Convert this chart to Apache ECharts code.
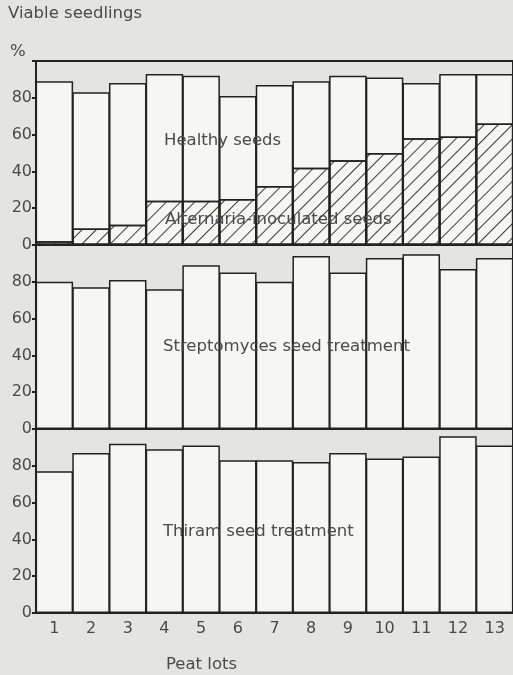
<!DOCTYPE html>
<html>
<head>
<meta charset="utf-8">
<script src="https://cdn.jsdelivr.net/npm/echarts@6/dist/echarts.min.js"></script>
<style>
  html, body { margin: 0; padding: 0; background: #e4e4e2; }
  #chart { width: 513px; height: 675px; }
</style>
</head>
<body>
<div id="chart"></div>
<script>
// peat lots
const lots = ['1', '2', '3', '4', '5', '6', '7', '8', '9', '10', '11', '12', '13']
// viable seedlings (%)
const healthy = [89, 83, 88, 93, 92, 81, 87, 89, 92, 91, 88, 93, 93]
const alternaria = [2, 9, 11, 24, 24, 25, 32, 42, 46, 50, 58, 59, 66]
const streptomyces = [80, 77, 81, 76, 89, 85, 80, 94, 85, 93, 95, 87, 93]
const thiram = [77, 87, 92, 89, 91, 83, 83, 82, 87, 84, 85, 96, 91]
const yTicks = [0, 20, 40, 60, 80]

const ink = '#222'
const font = 'DejaVu Sans'
const textColor = '#4a4a4a'
const barFill = '#f6f6f4'

let mychart = echarts.init(document.getElementById('chart'))

// three stacked panels sharing the same x categories
const panels = [
    { top: 61 },
    { top: 245 },
    { top: 429 },
]

function xAxisFor(i) {
    return {
        type: 'category',
        gridIndex: i,
        data: lots,
        axisLine: { show: true, lineStyle: { color: ink, width: 2 } },
        axisTick: { show: false },
        axisLabel: {
            show: i === 2,
            color: textColor,
            fontFamily: font,
            fontSize: 16,
            margin: 8,
        },
    }
}

function yAxisFor(i) {
    return {
        type: 'value',
        gridIndex: i,
        min: 0,
        max: 100,
        interval: 20,
        splitLine: { show: false },
        axisLine: { show: true, lineStyle: { color: ink, width: 2 } },
        axisTick: { show: true, length: 4, lineStyle: { color: ink, width: 2 } },
        axisLabel: {
            color: textColor,
            fontFamily: font,
            fontSize: 16,
            margin: 4,
            formatter: function (v) {
                return yTicks.indexOf(v) >= 0 ? String(v) : ''
            },
        },
    }
}

function barSeries(data, i, extra) {
    return Object.assign({
        type: 'bar',
        xAxisIndex: i,
        yAxisIndex: i,
        data: data,
        barWidth: 37.5, // slightly wider than the band so neighbours touch
        barGap: '-100%',
        silent: true,
        itemStyle: { color: barFill, borderColor: ink, borderWidth: 1.5 },
    }, extra || {})
}

// panel captions, drawn above the bars
function caption(text, left, top) {
    return {
        type: 'text', left: left, top: top, z: 100,
        style: { text: text, fill: textColor, font: '16.5px "DejaVu Sans"' },
    }
}

mychart.setOption({
    animation: false,
    backgroundColor: '#e4e4e2',
    grid: panels.map(function (p) {
        return {
            left: 36,
            right: 0,
            top: p.top,
            height: 184,
            show: true,
            borderColor: ink,
            borderWidth: 2,
            backgroundColor: 'transparent',
        }
    }),
    xAxis: [0, 1, 2].map(xAxisFor),
    yAxis: [0, 1, 2].map(yAxisFor),
    series: [
        barSeries(healthy, 0),
        // hatched bars overlaid from zero
        barSeries(alternaria, 0, {
            itemStyle: {
                color: barFill,
                borderColor: ink,
                borderWidth: 1.5,
                decal: {
                    symbol: 'rect',
                    symbolSize: 1,
                    color: '#3a3a3a',
                    dashArrayX: [1, 0],
                    dashArrayY: [0.9, 9],
                    rotation: -Math.PI / 4,
                },
            },
        }),
        barSeries(streptomyces, 1),
        barSeries(thiram, 2),
    ],
    graphic: [
        caption('Viable seedlings', 8, 5),
        caption('%', 10, 43),
        caption('Healthy seeds', 164, 132),
        caption('Alternaria-inoculated seeds', 165, 211),
        caption('Streptomyces seed treatment', 163, 338),
        caption('Thiram seed treatment', 163, 523),
        caption('Peat lots', 166, 656),
    ],
})
</script>
</body>
</html>
